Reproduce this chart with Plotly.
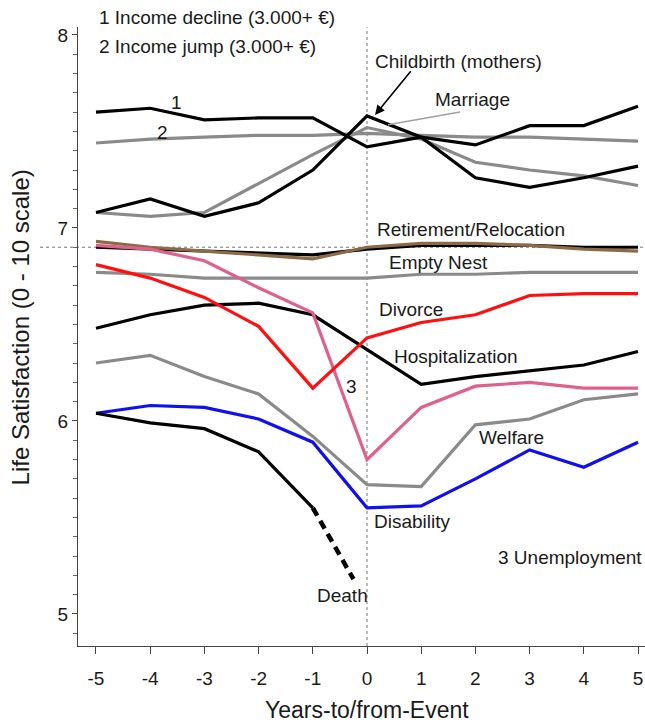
import plotly.graph_objects as go

years = [-5, -4, -3, -2, -1, 0, 1, 2, 3, 4, 5]

income_decline = [7.60, 7.62, 7.56, 7.57, 7.57, 7.42, 7.47, 7.43, 7.53, 7.53, 7.63]
income_jump    = [7.44, 7.46, 7.47, 7.48, 7.48, 7.49, 7.48, 7.47, 7.47, 7.46, 7.45]
childbirth     = [7.08, 7.15, 7.06, 7.13, 7.30, 7.58, 7.47, 7.26, 7.21, 7.26, 7.32]
marriage       = [7.08, 7.06, 7.08, 7.23, 7.38, 7.52, 7.46, 7.34, 7.30, 7.27, 7.22]
retirement     = [6.93, 6.90, 6.88, 6.86, 6.84, 6.90, 6.92, 6.92, 6.91, 6.89, 6.88]
relocation     = [6.90, 6.89, 6.88, 6.87, 6.86, 6.89, 6.91, 6.91, 6.91, 6.90, 6.90]
unemployment   = [6.91, 6.89, 6.83, 6.69, 6.56, 5.80, 6.07, 6.18, 6.20, 6.17, 6.17]
empty_nest     = [6.77, 6.76, 6.74, 6.74, 6.74, 6.74, 6.76, 6.76, 6.77, 6.77, 6.77]
divorce        = [6.81, 6.74, 6.64, 6.49, 6.17, 6.43, 6.51, 6.55, 6.65, 6.66, 6.66]
hospital       = [6.48, 6.55, 6.60, 6.61, 6.55, 6.37, 6.19, 6.23, 6.26, 6.29, 6.36]
welfare        = [6.30, 6.34, 6.23, 6.14, 5.92, 5.67, 5.66, 5.98, 6.01, 6.11, 6.14]
disability     = [6.04, 6.08, 6.07, 6.01, 5.89, 5.55, 5.56, 5.70, 5.85, 5.76, 5.89]
death_years    = [-5, -4, -3, -2, -1]
death          = [6.04, 5.99, 5.96, 5.84, 5.55]
death_end_x    = [-1, -0.25]
death_end_y    = [5.55, 5.18]

reference_level = 6.90

x_ticks = [-5, -4, -3, -2, -1, 0, 1, 2, 3, 4, 5]
y_ticks = [5, 6, 7, 8]

BLACK = "#000000"
GRAY = "#8a8a8a"
RED = "#ff1010"
BLUE = "#1010ee"
PINK = "#e0608c"
BROWN = "#8c6a45"

series = [
    (empty_nest, GRAY),
    (income_jump, GRAY),
    (marriage, GRAY),
    (welfare, GRAY),
    (relocation, BLACK),
    (retirement, BROWN),
    (income_decline, BLACK),
    (childbirth, BLACK),
    (hospital, BLACK),
    (unemployment, PINK),
    (divorce, RED),
    (disability, BLUE),
]

fig = go.Figure()
for vals, col in series:
    fig.add_trace(go.Scatter(x=years, y=vals, mode="lines",
                             line=dict(color=col, width=3.2), showlegend=False,
                             hoverinfo="skip"))
fig.add_trace(go.Scatter(x=death_years, y=death, mode="lines",
                         line=dict(color=BLACK, width=3.2), showlegend=False))
fig.add_trace(go.Scatter(x=death_end_x, y=death_end_y, mode="lines",
                         line=dict(color=BLACK, width=4.5, dash="9px,6px"),
                         showlegend=False))

font = "Liberation Sans, Arial, sans-serif"
TXT = "#1a1a1a"

def label(text, x, y, anchor="left", yref="y"):
    fig.add_annotation(x=x, y=y, xref="x", yref=yref, text=text, showarrow=False,
                       xanchor=anchor, yanchor="middle",
                       font=dict(family=font, size=19, color=TXT))

label("1 Income decline (3.000+ €)", -4.98, 1.016, yref="paper")
label("2 Income jump (3.000+ €)", -4.98, 7.938)
label("Childbirth (mothers)", 0.11, 7.860)
label("Marriage", 1.218, 7.663)
label("Retirement/Relocation", 0.148, 6.990)
label("Empty Nest", 0.369, 6.819)
label("Divorce", 0.185, 6.580)
label("Hospitalization", 0.461, 6.332)
label("3", -0.277, 6.181, "center")
label("Welfare", 2.03, 5.912)
label("Disability", 0.092, 5.477)
label("3 Unemployment", 2.38, 5.290)
label("Death", -0.96, 5.098)
label("1", -3.506, 7.648, "center")
label("2", -3.764, 7.497, "center")

# arrow to childbirth peak
fig.add_annotation(x=0.148, y=7.585, ax=0.83, ay=7.819, xref="x", yref="y",
                   axref="x", ayref="y", text="", showarrow=True,
                   arrowhead=2, arrowsize=1.2, arrowwidth=1.6, arrowcolor=BLACK)

# marriage pointer
fig.add_shape(type="line", xref="x", yref="y", x0=1.716, y0=7.601, x1=0.387, y1=7.534,
              line=dict(color="#a0a0a0", width=1.5))

# reference lines
fig.add_shape(type="line", xref="x", yref="y", x0=0, x1=0, y0=4.834, y1=8.04,
              line=dict(color="#777777", width=1, dash="dot"), layer="below")
fig.add_shape(type="line", xref="paper", yref="y", x0=-0.067, x1=1, y0=reference_level,
              y1=reference_level, line=dict(color="#777777", width=1, dash="dot"),
              layer="below")

# axis titles
fig.add_annotation(x=-0.102, y=0.515, xref="paper", yref="paper",
                   xanchor="center", yanchor="middle",
                   text="Life Satisfaction (0 - 10 scale)", textangle=-90, showarrow=False,
                   font=dict(family=font, size=24, color=TXT))
fig.add_annotation(x=0.51, y=-0.1034, xref="paper", yref="paper",
                   xanchor="center", yanchor="middle",
                   text="Years-to/from-Event", showarrow=False,
                   font=dict(family=font, size=23, color=TXT))

fig.update_layout(
    width=645, height=727,
    margin=dict(l=78, r=0, t=27, b=81),
    paper_bgcolor="white", plot_bgcolor="white",
    xaxis=dict(range=[-5.332, 5.129], tickvals=x_ticks,
               ticktext=[str(v) for v in x_ticks],
               showgrid=False, zeroline=False, showline=True, linecolor="#444",
               linewidth=1, ticks="outside", ticklen=7, tickcolor="#444",
               ticklabelstandoff=8,
               tickfont=dict(family=font, size=19, color=TXT)),
    yaxis=dict(range=[4.834, 8.041], tickvals=y_ticks,
               showgrid=False, zeroline=False, showline=True, linecolor="#444",
               linewidth=1, ticks="outside", ticklen=5, tickcolor="#444",
               minor=dict(dtick=0.1, ticks="outside", ticklen=4, tickcolor="#666",
                          showgrid=False),
               tickfont=dict(family=font, size=19, color=TXT)),
)

fig.write_html("out.html", config={"displayModeBar": False},
               post_script="document.body.style.margin='0';document.body.style.overflow='hidden';")
